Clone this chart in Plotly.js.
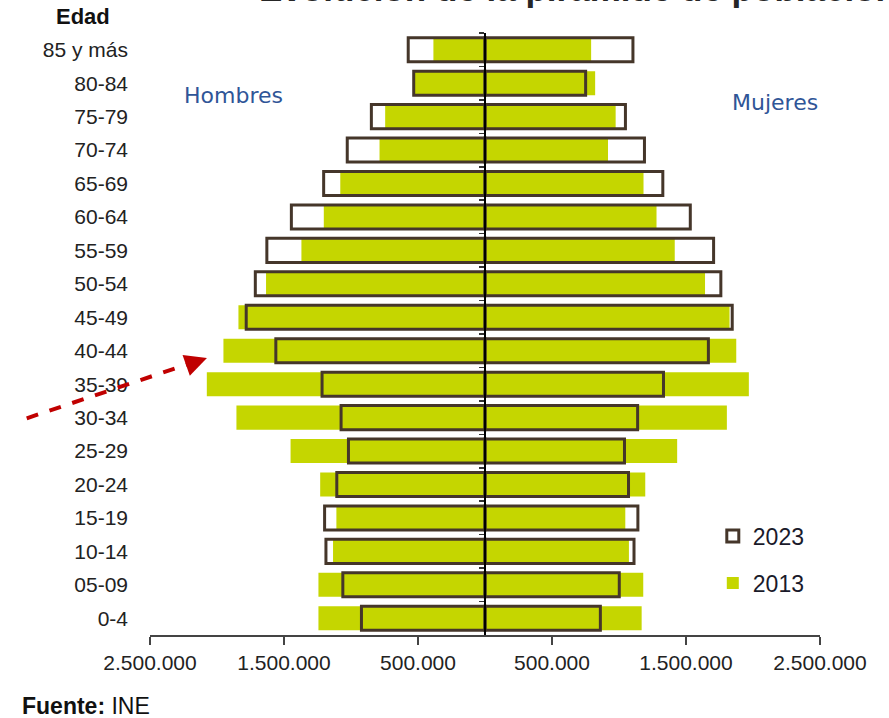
<!DOCTYPE html>
<html>
<head>
<meta charset="utf-8">
<script src="https://cdn.plot.ly/plotly-3.0.1.min.js"></script>
<style>html,body{margin:0;padding:0;background:#fff;}#chart{width:889px;height:718px;}</style>
</head>
<body>
<div id="chart"></div>
<script>
// Age groups, top to bottom
var ageGroups = ['85 y más','80-84','75-79','70-74','65-69','60-64','55-59','50-54','45-49','40-44','35-39','30-34','25-29','20-24','15-19','10-14','05-09','0-4'];

// Population (persons)
var hombres2013 = [385000, 525000, 745000, 787000, 1080000, 1203000, 1370000, 1634000, 1840000, 1952000, 2076000, 1855000, 1451000, 1230000, 1109000, 1134000, 1243000, 1243000];
var mujeres2013 = [792000, 822000, 975000, 918000, 1183000, 1280000, 1416000, 1642000, 1825000, 1875000, 1969000, 1805000, 1434000, 1196000, 1047000, 1074000, 1181000, 1169000];
var hombres2023 = [573000, 532000, 848000, 1028000, 1204000, 1445000, 1628000, 1714000, 1782000, 1561000, 1216000, 1074000, 1019000, 1106000, 1197000, 1187000, 1061000, 922000];
var mujeres2023 = [1104000, 751000, 1048000, 1190000, 1327000, 1532000, 1706000, 1760000, 1845000, 1667000, 1332000, 1139000, 1041000, 1071000, 1141000, 1112000, 1002000, 861000];

// Axis ticks
var xTickVals = [-2500000, -1500000, -500000, 500000, 1500000, 2500000];
var xTickText = ['2.500.000', '1.500.000', '500.000', '500.000', '1.500.000', '2.500.000'];

var GREEN = '#c5d600';
var BROWN = '#45362a';
var FONT = 'Liberation Sans, Arial, sans-serif';

function neg(a){ return a.map(function(v){ return -v; }); }

var traces = [
  { type:'bar', orientation:'h', name:'2013', legendgroup:'g13', legendrank:2,
    x: neg(hombres2013), y: ageGroups, xaxis:'x', yaxis:'y',
    marker:{color:GREEN, line:{width:0}}, hoverinfo:'skip' },
  { type:'bar', orientation:'h', name:'2013', legendgroup:'g13', showlegend:false,
    x: mujeres2013, y: ageGroups, xaxis:'x', yaxis:'y',
    marker:{color:GREEN, line:{width:0}}, hoverinfo:'skip' },
  { type:'bar', orientation:'h', name:'2023', legendgroup:'g23', legendrank:1,
    x: neg(hombres2023), y: ageGroups, xaxis:'x', yaxis:'y2',
    marker:{color:'rgba(0,0,0,0)', line:{width:3, color:BROWN}}, hoverinfo:'skip' },
  { type:'bar', orientation:'h', name:'2023', legendgroup:'g23', showlegend:false,
    x: mujeres2023, y: ageGroups, xaxis:'x', yaxis:'y2',
    marker:{color:'rgba(0,0,0,0)', line:{width:3, color:BROWN}}, hoverinfo:'skip' }
];

var layout = {
  width: 889, height: 718,
  margin: {l:150, r:69, t:33, b:83},
  paper_bgcolor:'#fff', plot_bgcolor:'#fff',
  font: {family: FONT, size: 21, color:'#222'},
  barmode: 'overlay',
  bargap: 0.28,
  showlegend: true,
  legend: {x:0.84, xanchor:'left', y:0.20, yanchor:'top', bgcolor:'rgba(0,0,0,0)',
           font:{size:23, color:'#1a1a2a'}, traceorder:'grouped', tracegroupgap:14},
  xaxis: {range:[-2500000, 2500000], tickvals:xTickVals, ticktext:xTickText,
          showgrid:false, zeroline:false, showline:true, linecolor:'#444', linewidth:1.5,
          ticks:'outside', ticklen:8, tickcolor:'#444', tickwidth:1.5,
          tickfont:{size:21, color:'#222'}, fixedrange:true},
  yaxis: {type:'category', categoryorder:'array', categoryarray:ageGroups, autorange:'reversed',
          showgrid:false, zeroline:false, showline:false, ticks:'',
          ticklabelstandoff:21, tickfont:{size:21, color:'#222'}, fixedrange:true},
  yaxis2: {type:'category', categoryorder:'array', categoryarray:ageGroups, autorange:'reversed',
           matches:'y', overlaying:'y', anchor:'free', position:0.5, side:'left',
           showgrid:false, zeroline:false, showline:true, linecolor:'#000', linewidth:2,
           ticks:'outside', tickson:'boundaries', ticklen:5, tickcolor:'#333', tickwidth:1.5,
           showticklabels:false, fixedrange:true},
  annotations: [
    {text:'<b>Evolución de la pirámide de población</b>', xref:'paper', yref:'paper',
     x:0.16, xanchor:'left', y:1.074, yanchor:'middle', showarrow:false,
     font:{size:35, color:'#262626'}},
    {text:'<b>Edad</b>', xref:'paper', yref:'paper', x:-0.1, y:1.027, xanchor:'center', yanchor:'middle',
     showarrow:false, font:{size:22, color:'#111'}},
    {text:'Hombres', xref:'paper', yref:'paper', x:0.124, y:0.897, xanchor:'center', yanchor:'middle',
     showarrow:false, font:{family:'DejaVu Sans, sans-serif', size:22, color:'#2f5597'}},
    {text:'Mujeres', xref:'paper', yref:'paper', x:0.933, y:0.885, xanchor:'center', yanchor:'middle',
     showarrow:false, font:{family:'DejaVu Sans, sans-serif', size:22, color:'#2f5597'}},
    {text:'<b>Fuente:</b> INE', xref:'paper', yref:'paper', x:-0.194, y:-0.118, xanchor:'left', yanchor:'middle',
     showarrow:false, font:{size:23, color:'#111'}},
    {text:'', xref:'paper', yref:'paper', x:0.085, y:0.460, showarrow:true, arrowhead:2, arrowsize:1.1,
     arrowwidth:4, arrowcolor:'#c00000', ax:-20, ay:7}
  ],
  shapes: [
    {type:'line', xref:'paper', yref:'paper', x0:-0.184, y0:0.360, x1:0.062, y1:0.452,
     line:{color:'#c00000', width:4, dash:'dash'}}
  ]
};

Plotly.newPlot('chart', traces, layout, {displayModeBar:false, staticPlot:true});
</script>
</body>
</html>
